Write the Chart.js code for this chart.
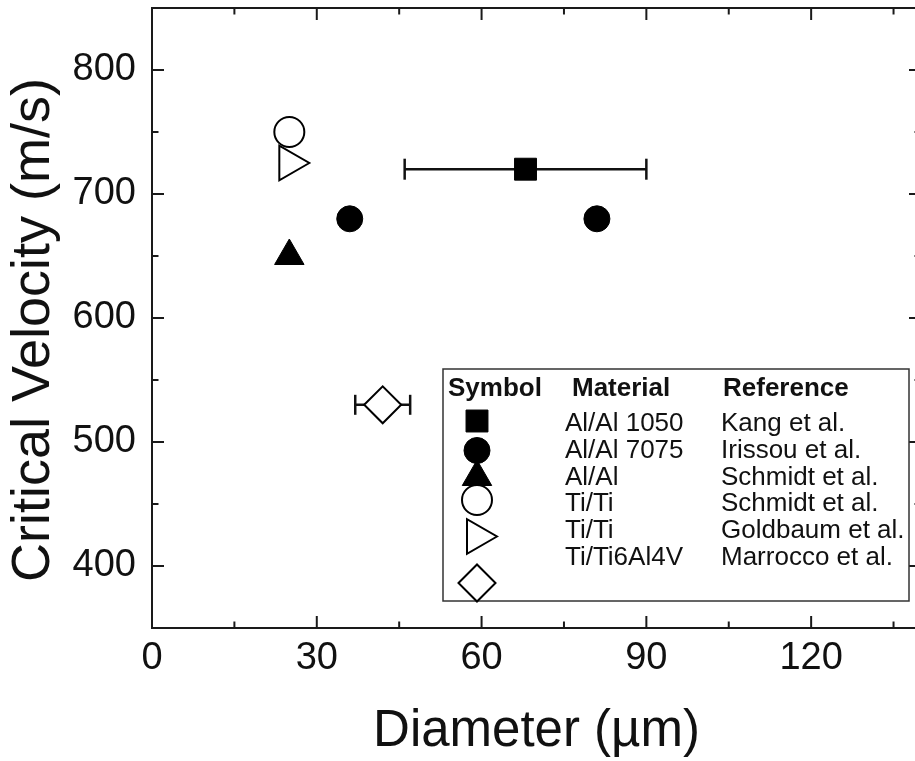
<!DOCTYPE html>
<html>
<head>
<meta charset="utf-8">
<title>Critical Velocity vs Diameter</title>
<script src="https://cdn.jsdelivr.net/npm/chart.js@4.4.1/dist/chart.umd.min.js"></script>
<style>
    html, body { margin: 0; padding: 0; background: #fff; overflow: hidden; }
</style>
</head>
<body>
<canvas id="chart" width="930" height="761"></canvas>
<script>
// Datos
const materials = ['Al/Al 1050', 'Al/Al 7075', 'Al/Al', 'Ti/Ti', 'Ti/Ti', 'Ti/Ti6Al4V'];
const references = ['Kang et al.', 'Irissou et al.', 'Schmidt et al.', 'Schmidt et al.', 'Goldbaum et al.', 'Marrocco et al.'];

const kangX = [68];
const kangY = [720];
const kangErr = [22];

const irissouX = [36, 81];
const irissouY = [680, 680];

const schmidtAlX = [25];
const schmidtAlY = [650];

const schmidtTiX = [25];
const schmidtTiY = [750];

const goldbaumX = [25];
const goldbaumY = [725];

const marroccoX = [42];
const marroccoY = [530];
const marroccoErr = [5];

const xTicks = [0, 30, 60, 90, 120];
const xMinorTicks = [15, 45, 75, 105, 135];
const yTicks = [400, 500, 600, 700, 800];
const yMinorTicks = [450, 550, 650, 750];

const yTitle = 'Critical Velocity (m/s)';
const xTitle = 'Diameter (µm)';

const INK = '#111';
const FONT = '"Liberation Sans", Arial, Helvetica, sans-serif';

function toPoints(xs, ys) {
    return xs.map((x, i) => ({ x: x, y: ys[i] }));
}

function line(ctx, x1, y1, x2, y2) {
    ctx.beginPath();
    ctx.moveTo(x1, y1);
    ctx.lineTo(x2, y2);
    ctx.stroke();
}

// Barras de error horizontales
function drawXErr(ctx, xs, ys, xArr, yArr, errArr, capHalf) {
    xArr.forEach((x, i) => {
        const y = ys.getPixelForValue(yArr[i]);
        const x1 = xs.getPixelForValue(x - errArr[i]);
        const x2 = xs.getPixelForValue(x + errArr[i]);
        line(ctx, x1, y, x2, y);
        line(ctx, x1, y - capHalf, x1, y + capHalf);
        line(ctx, x2, y - capHalf, x2, y + capHalf);
    });
}

// Quitar el relleno que Chart.js reserva para las etiquetas extremas
function noPadding(s) {
    s.paddingTop = 0;
    s.paddingBottom = 0;
    s.paddingLeft = 0;
    s.paddingRight = 0;
}

// Marco, marcas hacia dentro y barras de error
const framePlugin = {
    id: 'frame',
    beforeDatasetsDraw(chart) {
        const ctx = chart.ctx;
        const ca = chart.chartArea;
        const xs = chart.scales.x;
        const ys = chart.scales.y;
        ctx.save();
        ctx.strokeStyle = INK;
        ctx.lineWidth = 2.5;
        drawXErr(ctx, xs, ys, kangX, kangY, kangErr, 10.5);
        drawXErr(ctx, xs, ys, marroccoX, marroccoY, marroccoErr, 10);

        ctx.strokeStyle = '#1a1a1a';
        ctx.lineWidth = 2;
        ctx.strokeRect(ca.left, ca.top, ca.right - ca.left, ca.bottom - ca.top);

        const major = 12, minor = 6.5;
        xTicks.forEach(v => {
            const p = xs.getPixelForValue(v);
            line(ctx, p, ca.bottom, p, ca.bottom - major);
            line(ctx, p, ca.top, p, ca.top + major);
        });
        xMinorTicks.forEach(v => {
            const p = xs.getPixelForValue(v);
            line(ctx, p, ca.bottom, p, ca.bottom - minor);
            line(ctx, p, ca.top, p, ca.top + minor);
        });
        yTicks.forEach(v => {
            const p = ys.getPixelForValue(v);
            line(ctx, ca.left, p, ca.left + major, p);
            line(ctx, ca.right, p, ca.right - major, p);
        });
        yMinorTicks.forEach(v => {
            const p = ys.getPixelForValue(v);
            line(ctx, ca.left, p, ca.left + minor, p);
            line(ctx, ca.right, p, ca.right - minor, p);
        });
        ctx.restore();
    }
};

// Leyenda en forma de tabla y título del eje Y
const tablePlugin = {
    id: 'tableLegend',
    afterDraw(chart) {
        const ctx = chart.ctx;
        const box = { left: 443, top: 369, right: 909, bottom: 601 };
        ctx.save();
        ctx.fillStyle = '#fff';
        ctx.fillRect(box.left, box.top, box.right - box.left, box.bottom - box.top);
        ctx.strokeStyle = '#333';
        ctx.lineWidth = 1.5;
        ctx.strokeRect(box.left, box.top, box.right - box.left, box.bottom - box.top);

        ctx.fillStyle = INK;
        ctx.textBaseline = 'alphabetic';
        ctx.textAlign = 'left';
        ctx.font = 'bold 26px ' + FONT;
        ctx.fillText('Symbol', 448, 396);
        ctx.fillText('Material', 572, 396);
        ctx.fillText('Reference', 723, 396);

        ctx.font = '26px ' + FONT;
        const symbolY = [421, 450.5, 477, 500, 536.5, 583];
        materials.forEach((m, i) => {
            const base = 431 + i * 26.8;
            ctx.fillStyle = INK;
            ctx.fillText(m, 565, base);
            ctx.fillText(references[i], 721, base);

            const opts = chart.getDatasetMeta(i).data[0].options;
            ctx.fillStyle = opts.backgroundColor;
            ctx.strokeStyle = opts.borderColor;
            ctx.lineWidth = opts.borderWidth;
            Chart.helpers.drawPoint(ctx, {
                pointStyle: opts.pointStyle,
                rotation: opts.rotation,
                radius: opts.radius,
                borderWidth: opts.borderWidth
            }, 477, symbolY[i]);
        });

        // Título vertical
        ctx.translate(49, 330);
        ctx.rotate(-Math.PI / 2);
        ctx.textAlign = 'center';
        ctx.fillStyle = INK;
        ctx.font = '54px ' + FONT;
        ctx.fillText(yTitle, 0, 0);
        ctx.restore();
    }
};

function filled(style, r) {
    return {
        pointStyle: style, pointRadius: r,
        pointBackgroundColor: '#000', pointBorderColor: '#000', pointBorderWidth: 1
    };
}

function hollow(style, r, rot) {
    return {
        pointStyle: style, pointRadius: r, pointRotation: rot || 0,
        pointBackgroundColor: '#fff', pointBorderColor: '#000', pointBorderWidth: 2
    };
}

document.addEventListener('DOMContentLoaded', () => {
    Chart.defaults.font.family = FONT;
    Chart.defaults.color = INK;

    const ctx = document.getElementById('chart').getContext('2d');
    new Chart(ctx, {
        type: 'scatter',
        data: {
            datasets: [
                Object.assign({ label: references[0], data: toPoints(kangX, kangY) }, filled('rect', 15.5)),
                Object.assign({ label: references[1], data: toPoints(irissouX, irissouY) }, filled('circle', 13)),
                Object.assign({ label: references[2], data: toPoints(schmidtAlX, schmidtAlY) }, filled('triangle', 17)),
                Object.assign({ label: references[3], data: toPoints(schmidtTiX, schmidtTiY) }, hollow('circle', 15)),
                Object.assign({ label: references[4], data: toPoints(goldbaumX, goldbaumY) }, hollow('triangle', 20, 90)),
                Object.assign({ label: references[5], data: toPoints(marroccoX, marroccoY) }, hollow('rectRot', 18.5))
            ]
        },
        options: {
            responsive: false,
            animation: false,
            events: [],
            layout: { autoPadding: false, padding: { top: 8, right: 9, left: 0, bottom: 0 } },
            plugins: {
                legend: { display: false },
                tooltip: { enabled: false }
            },
            scales: {
                x: {
                    type: 'linear',
                    min: 0,
                    max: 140,
                    afterBuildTicks: s => { s.ticks = xTicks.map(v => ({ value: v })); },
                    afterFit: s => { s.height = 133; noPadding(s); },
                    grid: { display: false, drawTicks: false },
                    border: { display: false },
                    ticks: { font: { size: 38 }, color: INK, padding: 8, maxRotation: 0, autoSkip: false },
                    title: { display: true, text: xTitle, font: { size: 51 }, color: INK, padding: { top: 0, bottom: -2 } }
                },
                y: {
                    type: 'linear',
                    min: 350,
                    max: 850,
                    afterBuildTicks: s => { s.ticks = yTicks.map(v => ({ value: v })); },
                    afterFit: s => { s.width = 152; noPadding(s); },
                    grid: { display: false, drawTicks: false },
                    border: { display: false },
                    ticks: { font: { size: 38 }, color: INK, padding: 16, autoSkip: false },
                    title: { display: false }
                }
            }
        },
        plugins: [framePlugin, tablePlugin]
    });
});
</script>
</body>
</html>
